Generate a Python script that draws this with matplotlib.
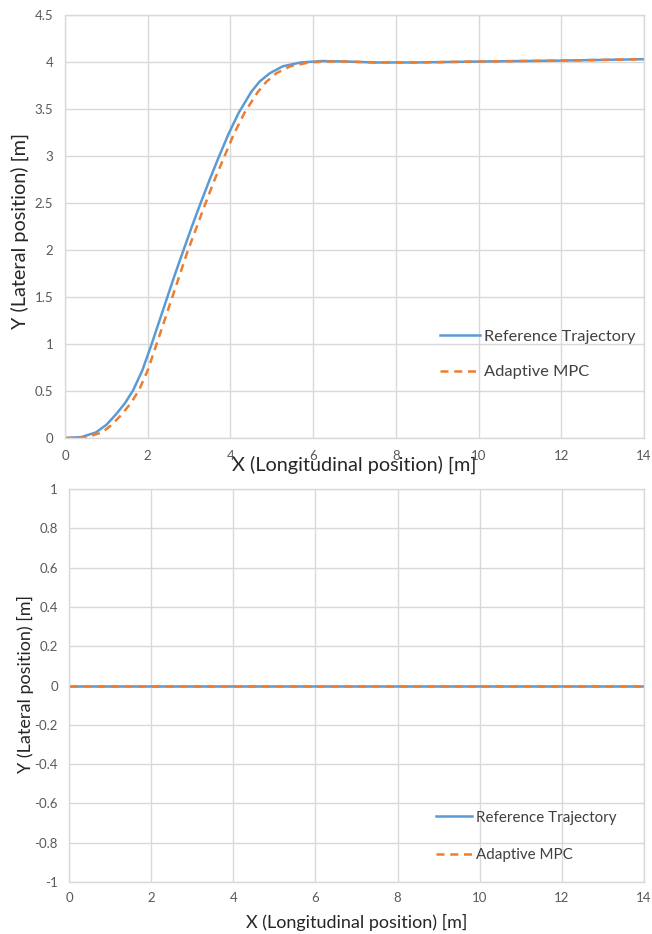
import matplotlib.pyplot as plt
import numpy as np

# lane change run (top panel)
ref_x = [0, 0.4, 0.75, 1.0, 1.23, 1.45, 1.65, 1.87, 2.08, 2.27, 2.46, 2.65,
         2.85, 3.06, 3.28, 3.49, 3.70, 3.95, 4.2, 4.5, 4.7, 4.95, 5.27, 5.7,
         6.2, 6.8, 7.5, 8.5, 10.0, 12.0, 14.0]
ref_y = [0, 0.01, 0.06, 0.14, 0.25, 0.37, 0.51, 0.72, 0.98, 1.23, 1.48, 1.73,
         1.98, 2.24, 2.5, 2.74, 2.97, 3.23, 3.46, 3.68, 3.79, 3.88, 3.955,
         3.995, 4.01, 4.005, 3.995, 3.995, 4.005, 4.015, 4.03]
mpc_x = [0, 0.5, 0.9, 1.13, 1.37, 1.59, 1.79, 2.0, 2.2, 2.39, 2.58, 2.77,
         2.96, 3.18, 3.40, 3.61, 3.83, 4.08, 4.34, 4.66, 4.87, 5.11, 5.45, 5.9,
         6.3, 6.8, 7.5, 8.5, 10.0, 12.0, 14.0]
mpc_y = [0, 0.005, 0.06, 0.14, 0.25, 0.37, 0.51, 0.72, 0.98, 1.23, 1.48, 1.73,
         1.98, 2.24, 2.5, 2.74, 2.97, 3.23, 3.46, 3.68, 3.79, 3.88, 3.955,
         3.995, 4.005, 4.005, 3.995, 3.995, 4.005, 4.015, 4.03]

# straight run (bottom panel)
str_x = [0, 14]
str_ref_y = [0, 0]
str_mpc_y = [0, 0]

blue = '#5B9BD5'
orange = '#ED7D31'
grid = '#d9d9d9'
txt = '#595959'

plt.rcParams['font.family'] = ['Lato', 'DejaVu Sans']

fig = plt.figure(figsize=(6.52, 9.34), dpi=100)
ax1 = fig.add_axes([65 / 652, 1 - 438 / 934, 579 / 652, 423 / 934])
ax2 = fig.add_axes([69 / 652, 1 - 882 / 934, 575 / 652, 393 / 934])


def style(ax, ylim, yticks, pad_x, pad_y):
    ax.set_xlim(0, 14)
    ax.set_xticks(np.arange(0, 15, 2))
    ax.set_ylim(*ylim)
    ax.set_yticks(yticks)
    ax.grid(True, color=grid, linewidth=1)
    ax.set_axisbelow(True)
    for s in ax.spines.values():
        s.set_color(grid)
        s.set_linewidth(1)
    ax.tick_params(length=0, labelsize=9.5, labelcolor=txt)
    ax.tick_params(axis='x', pad=pad_x)
    ax.tick_params(axis='y', pad=pad_y)


style(ax1, (0, 4.5), np.arange(0, 4.51, 0.5), 8.5, 8.5)
ax1.set_yticklabels(['0', '0.5', '1', '1.5', '2', '2.5', '3', '3.5', '4', '4.5'])
ax1.plot(ref_x, ref_y, color=blue, lw=1.8, label='Reference Trajectory')
ax1.plot(mpc_x, mpc_y, color=orange, lw=1.8, ls=(0, (3.2, 2.3)),
         label='Adaptive MPC')
ax1.set_xlabel('X (Longitudinal position) [m]', fontsize=14.3, color='#262626')
ax1.set_ylabel('Y (Lateral position) [m]', fontsize=14.3, color='#262626')
ax1.xaxis.set_label_coords(0.5, -0.064)
ax1.xaxis.label.set_va('center')
ax1.yaxis.set_label_coords(-0.078, 0.49)
ax1.yaxis.label.set_va('center')
ax1.legend(loc='center left', bbox_to_anchor=(0.648, 0.198), frameon=False,
           fontsize=11.8, borderpad=0, borderaxespad=0, handlelength=2.4,
           handletextpad=0.25, labelspacing=1.3, labelcolor='#404040')

style(ax2, (-1, 1), np.arange(-1, 1.01, 0.2), 7, 8)
ax2.set_yticklabels(['-1', '-0.8', '-0.6', '-0.4', '-0.2', '0', '0.2', '0.4',
                     '0.6', '0.8', '1'])
ax2.plot(str_x, str_ref_y, color=blue, lw=1.8, label='Reference Trajectory')
ax2.plot(str_x, str_mpc_y, color=orange, lw=1.8, ls=(0, (3.2, 2.3)),
         label='Adaptive MPC')
ax2.set_xlabel('X (Longitudinal position) [m]', fontsize=13, color='#262626')
ax2.set_ylabel('Y (Lateral position) [m]', fontsize=13, color='#262626')
ax2.xaxis.set_label_coords(0.5, -0.104)
ax2.xaxis.label.set_va('center')
ax2.yaxis.set_label_coords(-0.0765, 0.505)
ax2.yaxis.label.set_va('center')
ax2.legend(loc='center left', bbox_to_anchor=(0.638, 0.116), frameon=False,
           fontsize=10.9, borderpad=0, borderaxespad=0, handlelength=2.4,
           handletextpad=0.25, labelspacing=1.55, labelcolor='#404040')

fig.savefig('out.png', dpi=100)
